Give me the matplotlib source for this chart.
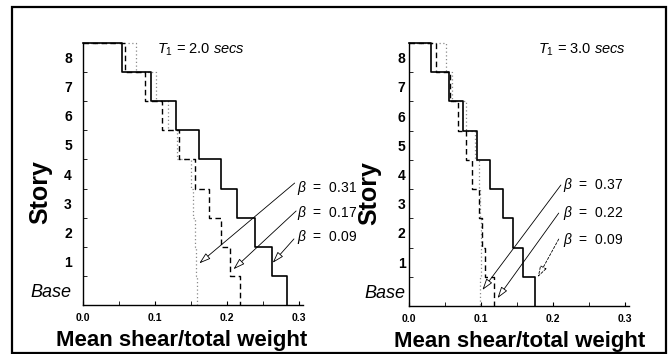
import numpy as np
import matplotlib
matplotlib.use('Agg')
from matplotlib import pyplot as plt
from matplotlib.patches import Rectangle

plt.rcParams['font.family'] = ['Liberation Sans', 'DejaVu Sans']
plt.rcParams['mathtext.fontset'] = 'custom'
plt.rcParams['mathtext.rm'] = 'Liberation Sans'
plt.rcParams['mathtext.it'] = 'Liberation Sans:italic'
plt.rcParams['mathtext.bf'] = 'Liberation Sans:bold'

# story labels, bottom to top
stories = ['Base', '1', '2', '3', '4', '5', '6', '7', '8']

# mean shear / total weight, from story 8 (top) down to base
# T1 = 2.0 secs
t2_b009 = [0.054, 0.094, 0.129, 0.161, 0.191, 0.214, 0.239, 0.262, 0.284]
t2_b017 = [0.058, 0.086, 0.110, 0.133, 0.155, 0.175, 0.192, 0.204, 0.218]
t2_b031 = [0.074, 0.102, 0.118, 0.131, 0.150, 0.153, 0.155, 0.157, 0.158]
# T1 = 3.0 secs
t3_b009 = [0.031, 0.056, 0.0755, 0.095, 0.113, 0.130, 0.144, 0.158, 0.175]
t3_b022 = [0.038, 0.057, 0.0685, 0.079, 0.088, 0.097, 0.102, 0.106, 0.118]
t3_b037 = [0.052, 0.060, 0.079, 0.092, 0.097, 0.099, 0.100, 0.100, 0.098]

xticks = [0.0, 0.1, 0.2, 0.3]
xticklabels = ['0.0', '0.1', '0.2', '0.3']

# beta labels and arrows: (label, text pos, arrow tail, arrow tip) in data units
left_notes = [
    ('0.31', (0.297, 4.02), (0.294, 4.19), (0.1615, 1.43)),
    ('0.17', (0.297, 3.16), (0.296, 3.23), (0.209, 1.23)),
    ('0.09', (0.297, 2.34), (0.293, 2.27), (0.2635, 1.45)),
]
right_notes = [
    ('0.37', (0.214, 4.14), (0.211, 4.14), (0.102, 0.55)),
    ('0.22', (0.214, 3.18), (0.208, 3.18), (0.123, 0.27)),
    ('0.09', (0.214, 2.26), (0.208, 2.29), (0.179, 0.99)),
]


def steps(vals):
    # staircase: top line from 0, then down story by story to the base
    v = np.asarray(vals)
    lev = np.arange(len(v), -1, -1)
    xs = np.r_[0, np.repeat(v, 2)]
    ys = np.r_[lev[0], np.repeat(lev, 2)[1:-1]]
    return xs, ys


def panel(ax, solid, dashed, dotted, title, title_x, notes, ypad, lab_x, xlab_x, dashed_last):
    ax.plot(*steps(dotted), color='#8a8a8a', lw=0.9, ls=(0, (1, 2)), clip_on=False)
    ax.plot(*steps(dashed), color='black', lw=1.0, ls=(0, (4, 2.5)), clip_on=False)
    ax.plot(*steps(solid), color='black', lw=1.2, clip_on=False)

    ax.set_xlim(0, 0.305)
    ax.set_ylim(0, 9)
    for s in ['top', 'right']:
        ax.spines[s].set_visible(False)
    ax.spines['left'].set_linewidth(1.0)
    ax.spines['bottom'].set_linewidth(1.0)

    ax.set_xticks(xticks, labels=xticklabels, fontsize=7.5, fontweight='bold')
    ax.set_xticks(np.arange(0.05, 0.3, 0.1), minor=True)
    ax.tick_params(axis='x', which='both', direction='in', length=3, pad=6)
    ax.set_yticks(np.arange(9) + 0.5, labels=stories, fontsize=10, fontweight='bold')
    ax.set_yticks(np.arange(1, 9), minor=True)
    ax.tick_params(axis='y', which='major', length=0, pad=ypad)
    ax.tick_params(axis='y', which='minor', direction='in', length=3)
    base = ax.get_yticklabels()[0]
    base.set_fontweight('normal')
    base.set_fontstyle('italic')
    base.set_fontsize(13)

    ax.set_ylabel('Story', fontsize=18, fontweight='bold')
    ax.yaxis.set_label_coords(lab_x, 0.43)
    ax.set_xlabel('Mean shear/total weight', fontsize=16, fontweight='bold')
    ax.xaxis.set_label_coords(xlab_x, -0.095)

    ax.text(title_x, 8.76, title, fontsize=10.5, ha='left', va='center')

    for i, (lab, tpos, tail, tip) in enumerate(notes):
        ls = (0, (3, 2)) if (dashed_last and i == 2) else '-'
        ax.annotate('', xy=tip, xytext=tail, annotation_clip=False,
                    arrowprops=dict(arrowstyle='-|>,head_length=0.7,head_width=0.22',
                                    fc='white', ec='black', lw=0.6, ls=ls,
                                    shrinkA=0, shrinkB=0))
        ax.text(tpos[0], tpos[1], r'$\beta$  =  ' + lab, fontsize=10,
                ha='left', va='center', clip_on=False)


fig = plt.figure(figsize=(6.72, 3.54), dpi=100)
ax1 = fig.add_axes([0.1235, 0.1384, 0.3268, 0.7401])
ax2 = fig.add_axes([0.6086, 0.1356, 0.3268, 0.7429])

panel(ax1, t2_b009, t2_b017, t2_b031, r'$T_{\mathit{1}}$ = 2.0 $\mathit{secs}$', 0.103,
      left_notes, 8, -0.141, 0.45, False)
panel(ax2, t3_b009, t3_b022, t3_b037, r'$T_{\mathit{1}}$ = 3.0 $\mathit{secs}$', 0.179,
      right_notes, 2.5, -0.128, 0.505, True)

# outer frame round the whole figure
fig.patches.append(Rectangle((12 / 672, 0.003), 654 / 672, 0.977, transform=fig.transFigure,
                             fill=False, ec='black', lw=1.6))

fig.savefig('out.png', dpi=100)
